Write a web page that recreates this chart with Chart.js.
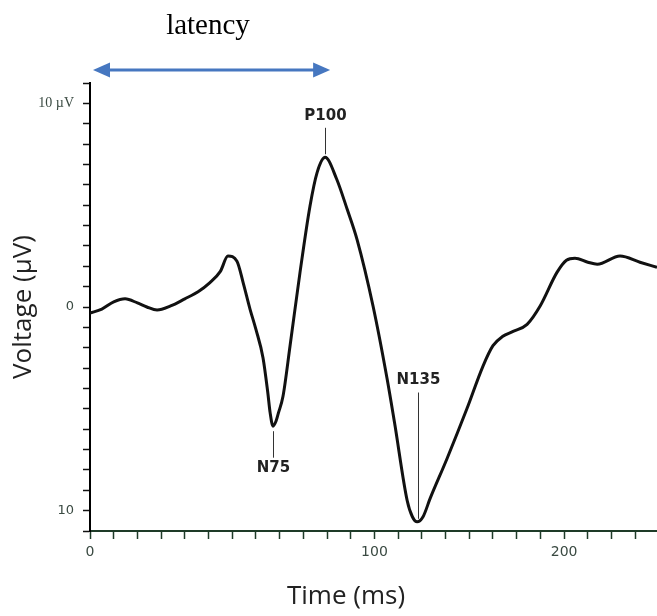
<!DOCTYPE html>
<html>
<head>
<meta charset="utf-8">
<script src="https://cdn.jsdelivr.net/npm/chart.js@4"></script>
<style>
  html, body { margin: 0; padding: 0; background: #fff; }
</style>
</head>
<body>
<canvas id="chart" width="657" height="616"></canvas>
<script>
// waveform: x in axis divisions (one tick each), y in µV (negative down)
const timeDiv = [0, 0.5, 1.0, 1.48, 2.0, 2.4, 2.83, 3.4, 4.0, 4.56, 5.06, 5.5, 5.82, 6.2, 6.46, 6.75,
  7.0, 7.3, 7.5, 7.6, 7.72, 7.85, 7.95, 8.14, 8.44, 8.86, 9.28, 9.58, 9.92, 10.4, 10.85, 11.27, 11.94,
  12.53, 12.85, 13.38, 13.6, 13.8, 14.05, 14.35, 15.06, 15.9, 16.58, 17.0, 17.4, 17.85, 18.44, 18.99,
  19.7, 20.1, 20.46, 21.0, 21.4, 22.36, 23.2, 23.92];
const voltage = [-0.3, -0.1, 0.25, 0.4, 0.2, 0, -0.15, 0.05, 0.4, 0.75, 1.2, 1.75, 2.5, 2.25, 1.2, -0.1,
  -1.1, -2.5, -4.2, -5.2, -5.85, -5.6, -5.2, -4.4, -1.9, 1.7, 4.95, 6.6, 7.35, 6.3, 4.8, 3.3, 0.05,
  -3.5, -5.7, -9.5, -10.3, -10.55, -10.3, -9.4, -7.45, -5.0, -2.9, -1.9, -1.45, -1.2, -0.85, 0.05,
  1.7, 2.3, 2.4, 2.2, 2.1, 2.5, 2.2, 1.95];

// labelled ticks
const timeTickAt = [0, 12, 20];
const timeTickText = ['0', '100', '200'];
const voltTickAt = [10, 0, -10];
const voltTickText = ['10 \u00b5V', '0', '10'];

// component markers
const peakNames = ['N75', 'P100', 'N135'];
const peakX = [7.72, 9.92, 13.84];
const peakLineFrom = [-6.1, 7.5, -4.2];
const peakLineTo = [-7.4, 8.8, -10.4];
const peakTextY = [-7.9, 9.35, -3.6];

const points = timeDiv.map((t, i) => ({ x: t, y: voltage[i] }));

const extras = {
  id: 'extras',
  afterDatasetsDraw(chart) {
    const ctx = chart.ctx;
    const xs = chart.scales.x, ys = chart.scales.y;
    ctx.save();

    // peak markers
    ctx.strokeStyle = '#333';
    ctx.lineWidth = 1;
    ctx.fillStyle = '#222';
    ctx.font = 'bold 15px "DejaVu Sans"';
    ctx.textAlign = 'center';
    ctx.textBaseline = 'middle';
    peakNames.forEach((name, i) => {
      const px = Math.round(xs.getPixelForValue(peakX[i])) + 0.5;
      ctx.beginPath();
      ctx.moveTo(px, ys.getPixelForValue(peakLineFrom[i]));
      ctx.lineTo(px, ys.getPixelForValue(peakLineTo[i]));
      ctx.stroke();
      ctx.fillText(name, px, ys.getPixelForValue(peakTextY[i]));
    });

    // latency arrow, from 0 to P100
    const ax0 = xs.getPixelForValue(0) + 3;
    const ax1 = xs.getPixelForValue(peakX[1]) + 5;
    const ay = 70;
    ctx.strokeStyle = '#4677c0';
    ctx.fillStyle = '#4677c0';
    ctx.lineWidth = 3;
    ctx.beginPath();
    ctx.moveTo(ax0 + 12, ay);
    ctx.lineTo(ax1 - 12, ay);
    ctx.stroke();
    ctx.beginPath();
    ctx.moveTo(ax0, ay);
    ctx.lineTo(ax0 + 17, ay - 7.5);
    ctx.lineTo(ax0 + 17, ay + 7.5);
    ctx.closePath();
    ctx.fill();
    ctx.beginPath();
    ctx.moveTo(ax1, ay);
    ctx.lineTo(ax1 - 17, ay - 7.5);
    ctx.lineTo(ax1 - 17, ay + 7.5);
    ctx.closePath();
    ctx.fill();

    ctx.fillStyle = '#000';
    ctx.font = '29px "Liberation Serif"';
    ctx.textBaseline = 'alphabetic';
    ctx.fillText('latency', 208, 34);

    // time axis title
    ctx.fillStyle = '#222';
    ctx.font = '26px "Open Sans"';
    ctx.textBaseline = 'middle';
    ctx.fillText('Time (ms)', 346, 597);
    ctx.restore();
  }
};

new Chart(document.getElementById('chart'), {
  type: 'line',
  data: {
    datasets: [{
      data: points,
      borderColor: '#111',
      borderWidth: 3,
      pointRadius: 0,
      cubicInterpolationMode: 'monotone',
      fill: false
    }]
  },
  options: {
    responsive: false,
    animation: false,
    layout: { padding: { top: 83, right: 0, bottom: 0, left: 0 } },
    plugins: { legend: { display: false }, tooltip: { enabled: false } },
    scales: {
      x: {
        type: 'linear',
        min: 0,
        max: 23.92,
        afterFit: (s) => { s.height = 85; },
        border: { color: '#1e3b28', width: 2 },
        grid: { drawOnChartArea: false, tickLength: 8, tickColor: '#1e3b28', tickWidth: 1.5 },
        ticks: {
          stepSize: 1,
          includeBounds: false,
          autoSkip: false,
          maxRotation: 0,
          padding: 5,
          color: '#3a4a42',
          font: { family: 'DejaVu Sans', size: 14 },
          callback: (v) => {
            const i = timeTickAt.indexOf(v);
            return i >= 0 ? timeTickText[i] : '';
          }
        }
      },
      y: {
        min: -11,
        max: 11,
        afterFit: (s) => { s.width = 90; },
        border: { color: '#000', width: 2 },
        grid: { drawOnChartArea: false, tickLength: 7, tickColor: '#111', tickWidth: 1.5 },
        title: {
          display: true,
          text: 'Voltage (\u00b5V)',
          color: '#222',
          font: { family: 'Open Sans', size: 26 },
          padding: { top: 8, bottom: 0 }
        },
        ticks: {
          stepSize: 1,
          autoSkip: false,
          padding: 9,
          color: '#3a4a42',
          font: (c) => (c.tick && c.tick.value === 10)
            ? { family: 'Liberation Serif', size: 14 }
            : { family: 'DejaVu Sans', size: 13 },
          callback: (v) => {
            const i = voltTickAt.indexOf(v);
            return i >= 0 ? voltTickText[i] : '';
          }
        }
      }
    }
  },
  plugins: [extras]
});
</script>
</body>
</html>
